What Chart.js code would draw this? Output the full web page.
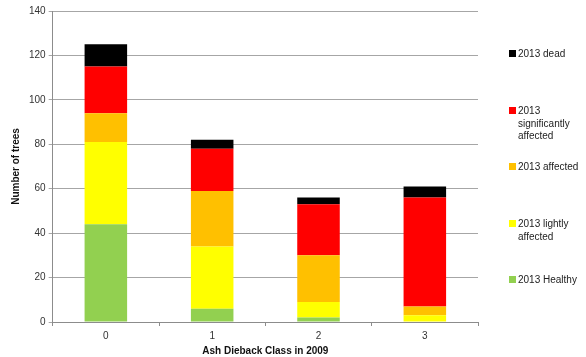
<!DOCTYPE html>
<html>
<head>
<meta charset="utf-8">
<script src="https://cdn.jsdelivr.net/npm/chart.js@4"></script>
<style>
  body { margin: 0; background: #fff; }
  #wrap { position: relative; width: 586px; height: 357px; }
  #legend { position: absolute; left: 0; top: 0; font-family: "Liberation Sans", Arial, sans-serif; font-size: 10px; color: #222; }
  .item { position: absolute; left: 509px; width: 78px; line-height: 12.5px; }
  .box { position: absolute; left: 0; top: 2px; width: 7px; height: 7px; }
  .txt { margin-left: 9px; }
</style>
</head>
<body>
<div id="wrap">
  <canvas id="myChart" width="586" height="357"></canvas>
  <div id="legend"></div>
</div>
<script>
const classes = ['0', '1', '2', '3'];

const healthy = [44, 6, 2, 0];
const lightly = [37, 28, 7, 3];
const affected = [13, 25, 21, 4];
const significantly = [21, 19, 23, 49];
const dead = [10, 4, 3, 5];

const yTicks = [0, 20, 40, 60, 80, 100, 120, 140];

const ctx = document.getElementById('myChart').getContext('2d');

const myChart = new Chart(ctx, {
    type: 'bar',
    data: {
        labels: classes,
        datasets: [
            { label: '2013 Healthy', data: healthy, backgroundColor: '#92D050' },
            { label: '2013 lightly affected', data: lightly, backgroundColor: '#FFFF00' },
            { label: '2013 affected', data: affected, backgroundColor: '#FFC000' },
            { label: '2013 significantly affected', data: significantly, backgroundColor: '#FF0000' },
            { label: '2013 dead', data: dead, backgroundColor: '#000000' }
        ]
    },
    options: {
        responsive: false,
        animation: false,
        layout: {
            padding: { top: 11, right: 108, left: 10, bottom: 1 }
        },
        datasets: {
            bar: {
                categoryPercentage: 1,
                barPercentage: 0.4
            }
        },
        plugins: {
            legend: { display: false },
            tooltip: { enabled: false }
        },
        scales: {
            x: {
                stacked: true,
                grid: {
                    drawOnChartArea: false,
                    tickLength: 4,
                    color: '#8c8c8c'
                },
                border: { color: '#8c8c8c' },
                ticks: {
                    font: { family: 'Liberation Sans', size: 10 },
                    color: '#333',
                    padding: 4
                },
                title: {
                    display: true,
                    text: 'Ash Dieback Class in 2009',
                    font: { family: 'Liberation Sans', size: 10, weight: 'bold', lineHeight: 1 },
                    color: '#111',
                    padding: { top: 0, bottom: 0 }
                }
            },
            y: {
                stacked: true,
                min: 0,
                max: 140,
                afterBuildTicks: (axis) => { axis.ticks = yTicks.map(v => ({ value: v })); },
                grid: {
                    color: '#a6a6a6',
                    tickLength: 4
                },
                border: { color: '#8c8c8c' },
                ticks: {
                    font: { family: 'Liberation Sans', size: 10 },
                    color: '#333',
                    padding: 3
                },
                title: {
                    display: true,
                    text: 'Number of trees',
                    font: { family: 'Liberation Sans', size: 10, weight: 'bold' },
                    color: '#111',
                    padding: { top: 0, bottom: 4 }
                }
            }
        }
    }
});

// legend, spread like the original (top = last dataset)
const legendTops = { '2013 dead': 48, '2013 significantly affected': 105, '2013 affected': 161, '2013 lightly affected': 218, '2013 Healthy': 274 };
const legendText = {
    '2013 significantly affected': '2013<br>significantly<br>affected',
    '2013 lightly affected': '2013 lightly<br>affected'
};
const legend = document.getElementById('legend');
myChart.data.datasets.slice().reverse().forEach(ds => {
    const el = document.createElement('div');
    el.className = 'item';
    el.style.top = legendTops[ds.label] + 'px';
    el.innerHTML = '<span class="box" style="background:' + ds.backgroundColor + '"></span><div class="txt">' + (legendText[ds.label] || ds.label) + '</div>';
    legend.appendChild(el);
});
</script>
</body>
</html>
